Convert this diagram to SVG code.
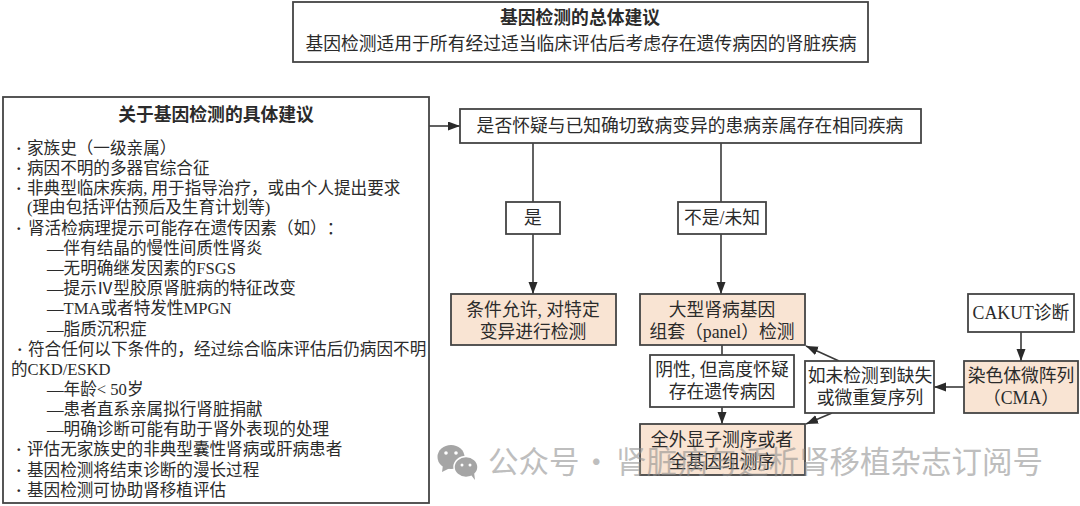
<svg xmlns="http://www.w3.org/2000/svg" width="1080" height="506" viewBox="0 0 1080 506">
<defs>
<marker id="arr" markerUnits="userSpaceOnUse" markerWidth="13" markerHeight="10" refX="12" refY="4.5" orient="auto"><path d="M0,0 L12,4.5 L0,9 Z" fill="#2a2a2a"/></marker>
</defs>
<style>
text{font-family:"Liberation Serif","Noto Sans CJK SC",serif;fill:#2b2b2b;font-size:17.8px;text-spacing-trim:space-all}
.box{fill:#fff;stroke:#444;stroke-width:1.8}
.hi{fill:#f9e4d3;stroke:#444;stroke-width:1.8}
.c{text-anchor:middle}
.b{font-weight:700;font-size:17.8px}
.l{font-size:16.6px}
.d{font-size:16.6px;font-weight:700}
.line{fill:none;stroke:#3a3a3a;stroke-width:1.6}
.wm{font-family:"Noto Sans CJK SC","Noto Sans",sans-serif;font-size:30.5px;fill:#8f8f8f;opacity:.72}
</style>
<rect width="1080" height="506" fill="#fff"/>
<g id="connectors">
<path class="line" marker-end="url(#arr)" d="M429,126 H460"/>
<path class="line" marker-end="url(#arr)" d="M533,143 V294"/>
<path class="line" marker-end="url(#arr)" d="M721,143 V294"/>
<path class="line" d="M722,345 V355"/>
<path class="line" marker-end="url(#arr)" d="M722,407 V424"/>
<path class="line" marker-end="url(#arr)" d="M839,361 L806,346"/>
<path class="line" marker-end="url(#arr)" d="M832,413 L806,424"/>
<path class="line" marker-end="url(#arr)" d="M964,387 H934"/>
<path class="line" marker-end="url(#arr)" d="M1021,332 V361"/>
</g>
<g id="n-general">
<rect class="box" x="293" y="2" width="575" height="60"/>
<text class="c b" x="580" y="24">基因检测的总体建议</text>
<text class="c" x="581" y="50">基因检测适用于所有经过适当临床评估后考虑存在遗传病因的肾脏疾病</text>
</g>
<g id="n-specific">
<rect class="box" x="3" y="97" width="426" height="406"/>
<text class="c b" x="216" y="121">关于基因检测的具体建议</text>
<text class="d" x="16" y="154">·</text><text class="l" x="27" y="154">家族史（一级亲属）</text>
<text class="d" x="16" y="174">·</text><text class="l" x="27" y="174">病因不明的多器官综合征</text>
<text class="d" x="16" y="194">·</text><text class="l" x="27" y="194">非典型临床疾病, 用于指导治疗，或由个人提出要求</text>
<text class="l" x="27" y="213">(理由包括评估预后及生育计划等)</text>
<text class="d" x="16" y="234">·</text><text class="l" x="28" y="234">肾活检病理提示可能存在遗传因素（如）：</text>
<text class="l" x="47" y="254">—伴有结晶的慢性间质性肾炎</text>
<text class="l" x="47" y="274">—无明确继发因素的FSGS</text>
<text class="l" x="47" y="294">—提示Ⅳ型胶原肾脏病的特征改变</text>
<text class="l" x="47" y="314">—TMA或者特发性MPGN</text>
<text class="l" x="47" y="335">—脂质沉积症</text>
<text class="d" x="17" y="355">·</text><text class="l" x="28" y="355">符合任何以下条件的，经过综合临床评估后仍病因不明</text>
<text class="l" x="11" y="375">的CKD/ESKD</text>
<text class="l" x="47" y="395">—年龄&lt; 50岁</text>
<text class="l" x="47" y="415">—患者直系亲属拟行肾脏捐献</text>
<text class="l" x="47" y="435">—明确诊断可能有助于肾外表现的处理</text>
<text class="d" x="16" y="455">·</text><text class="l" x="27" y="455">评估无家族史的非典型囊性肾病或肝病患者</text>
<text class="d" x="16" y="476">·</text><text class="l" x="27" y="476">基因检测将结束诊断的漫长过程</text>
<text class="d" x="16" y="496">·</text><text class="l" x="27" y="496">基因检测可协助肾移植评估</text>
</g>
<g id="n-question">
<rect class="box" x="460" y="109" width="461" height="34"/>
<text class="c" x="690" y="132">是否怀疑与已知确切致病变异的患病亲属存在相同疾病</text>
</g>
<g id="n-yes">
<rect class="box" x="506" y="202" width="54" height="32"/>
<text class="c" x="533" y="224">是</text>
</g>
<g id="n-no">
<rect class="box" x="678" y="202" width="88" height="32"/>
<text class="c" x="722" y="224">不是/未知</text>
</g>
<g id="n-specific-test">
<rect class="hi" x="451" y="294" width="165" height="51"/>
<text class="c" x="533" y="316">条件允许, 对特定</text>
<text class="c" x="533" y="338">变异进行检测</text>
</g>
<g id="n-panel">
<rect class="hi" x="640" y="294" width="165" height="51"/>
<text class="c" x="722" y="316">大型肾病基因</text>
<text class="c" x="722" y="338">组套（panel）检测</text>
</g>
<g id="n-negative">
<rect class="box" x="650" y="355" width="144" height="52"/>
<text class="c" x="722" y="376">阴性, 但高度怀疑</text>
<text class="c" x="722" y="398">存在遗传病因</text>
</g>
<g id="n-nodel">
<rect class="box" x="805" y="361" width="129" height="52"/>
<text class="c" x="870" y="382">如未检测到缺失</text>
<text class="c" x="870" y="404">或微重复序列</text>
</g>
<g id="n-cma">
<rect class="hi" x="964" y="361" width="114" height="52"/>
<text class="c" x="1021" y="382">染色体微阵列</text>
<text class="c" x="1021" y="404">（CMA）</text>
</g>
<g id="n-cakut">
<rect class="box" x="968" y="294" width="106" height="38"/>
<text class="c" x="1021" y="319">CAKUT诊断</text>
</g>
<g id="n-wes">
<rect class="hi" x="640" y="424" width="165" height="51"/>
<text class="c" x="722" y="446">全外显子测序或者</text>
<text class="c" x="722" y="468">全基因组测序</text>
</g>
<g id="watermark" opacity=".8">
<ellipse cx="451" cy="457" rx="13.5" ry="12" fill="#8f8f8f"/>
<path d="M443,465 L442,472 L450,468 Z" fill="#8f8f8f"/>
<ellipse cx="466" cy="467" rx="12" ry="10.5" fill="#8f8f8f" stroke="#fff" stroke-width="1.5"/>
<path d="M471,475 L475,480 L474,472 Z" fill="#8f8f8f"/>
<circle cx="446" cy="453" r="1.8" fill="#fff"/><circle cx="456" cy="453" r="1.8" fill="#fff"/>
<circle cx="462" cy="465" r="1.5" fill="#fff"/><circle cx="470" cy="465" r="1.5" fill="#fff"/>
<text class="wm" y="473"><tspan x="581">·</tspan><tspan x="488">公众号</tspan><tspan x="616">肾脏病与透析肾移植杂志订阅号</tspan></text>
</g>
</svg>
